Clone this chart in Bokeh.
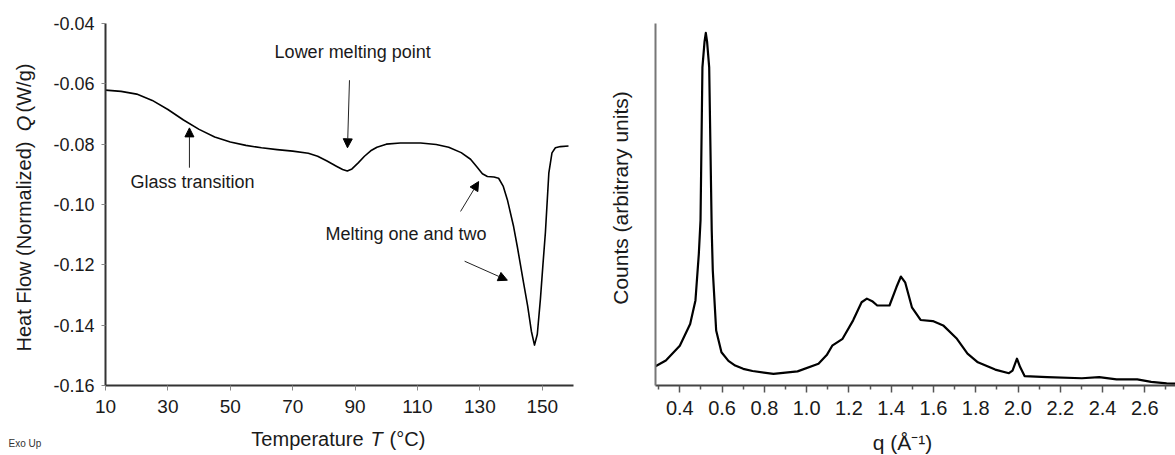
import math
from bokeh.plotting import figure
from bokeh.layouts import column
from bokeh.models import Label, Arrow, NormalHead, FixedTicker, Range1d, GridBox
from bokeh.embed import file_html
from bokeh.resources import INLINE

# ---------------- data ----------------
# DSC curve (left): temperature (°C) and heat flow (W/g)
dsc_T = [10, 15, 20, 25, 30, 35, 40, 45, 50, 55, 60, 65, 70, 75, 78, 81, 84, 86, 87.5, 89,
         91, 93, 95, 97, 100, 104.5, 111, 116, 120, 124, 127, 129, 130.8, 132.4, 134.5,
         136, 137.5, 138.8, 140.8, 142, 144, 145.3, 146.5, 147.5, 148.4, 149.4, 150.2,
         151.0, 152.1, 153.1, 154.2, 155.8, 158.4]
dsc_Q = [-0.0621, -0.0625, -0.0634, -0.0655, -0.0685, -0.0720, -0.0751, -0.0776, -0.0793,
         -0.0804, -0.0812, -0.0818, -0.0823, -0.0830, -0.0840, -0.0856, -0.0873, -0.0884,
         -0.0889, -0.0882, -0.0862, -0.0840, -0.0822, -0.0810, -0.0800, -0.0796, -0.0796,
         -0.0801, -0.0810, -0.0828, -0.0850, -0.0875, -0.0898, -0.0907, -0.0909, -0.0913,
         -0.0940, -0.0984, -0.1073, -0.1140, -0.1260, -0.1336, -0.1420, -0.1466, -0.1430,
         -0.1313, -0.1200, -0.1092, -0.0895, -0.0829, -0.0812, -0.0808, -0.0806]

T_ticks = [10, 30, 50, 70, 90, 110, 130, 150]
Q_ticks = [-0.16, -0.14, -0.12, -0.10, -0.08, -0.06, -0.04]
Q_tick_labels = ["-0.16", "-0.14", "-0.12", "-0.10", "-0.08", "-0.06", "-0.04"]

# XRD curve (right): q (1/Å) and counts (arbitrary units)
xrd_q = [0.285, 0.334, 0.40, 0.449, 0.474, 0.49, 0.498, 0.507, 0.517, 0.523, 0.529, 0.539,
         0.551, 0.556, 0.572, 0.597, 0.630, 0.662, 0.700, 0.744, 0.843, 0.957, 1.056, 1.095,
         1.121, 1.17, 1.22, 1.26, 1.285, 1.310, 1.334, 1.392, 1.425, 1.446, 1.466, 1.498,
         1.539, 1.597, 1.646, 1.711, 1.761, 1.81, 1.892, 1.957, 1.974, 1.995, 2.01, 2.031,
         2.138, 2.302, 2.384, 2.466, 2.564, 2.63, 2.703, 2.745]
xrd_c = [5.3, 6.9, 11.0, 17.0, 23.5, 36.4, 45.6, 87.9, 95.0, 97.4, 95.0, 87.9,
         42.8, 31.8, 15.2, 9.2, 6.8, 5.5, 4.6, 4.0, 3.2, 3.9, 6.0, 8.4,
         11.0, 12.9, 18.0, 23.0, 24.0, 23.3, 22.1, 22.1, 27.2, 30.1, 28.5, 21.6,
         18.1, 17.8, 16.6, 12.9, 8.8, 6.4, 4.4, 3.4, 4.1, 7.4, 5.1, 2.6,
         2.3, 2.0, 2.3, 1.7, 1.7, 1.0, 0.6, 0.5]

q_major = [0.4, 0.6, 0.8, 1.0, 1.2, 1.4, 1.6, 1.8, 2.0, 2.2, 2.4, 2.6]
q_major_labels = ["0.4", "0.6", "0.8", "1.0", "1.2", "1.4", "1.6", "1.8", "2.0", "2.2", "2.4", "2.6"]
q_minor = [0.3, 0.5, 0.7, 0.9, 1.1, 1.3, 1.5, 1.7, 1.9, 2.1, 2.3, 2.5, 2.7]

FONT = "Liberation Sans"
TXT = "#1a1a1a"


def lab(p, x, y, text, size="18px", align="left", baseline="middle", angle=0.0,
        style="normal", font=FONT, color=TXT):
    p.add_layout(Label(x=x, y=y, text=text, text_font=font, text_font_size=size,
                       text_align=align, text_baseline=baseline, angle=angle,
                       text_font_style=style, text_color=color))


def arrow(p, x0, y0, x1, y1):
    p.add_layout(Arrow(end=NormalHead(size=9, fill_color="black", line_color="black", line_width=1),
                       x_start=x0, y_start=y0, x_end=x1, y_end=y1,
                       line_color="#222222", line_width=1))


# ---------------- left: DSC ----------------
p1 = figure(width=600, height=455, x_range=Range1d(10, 160), y_range=Range1d(-0.16, -0.04),
            output_backend="svg", toolbar_location=None,
            min_border_left=105, min_border_right=27, min_border_top=23, min_border_bottom=68)
p1.outline_line_color = None
p1.grid.visible = False

p1.line(dsc_T, dsc_Q, line_color="black", line_width=1.6, line_join="round")

xa = p1.xaxis[0]
xa.ticker = FixedTicker(ticks=T_ticks, minor_ticks=[])
xa.axis_line_color = "#333333"
xa.axis_line_width = 2
xa.major_tick_line_color = "#888888"
xa.major_tick_in = 0
xa.major_tick_out = 5
xa.minor_tick_line_color = None
xa.major_label_standoff = 9
xa.major_label_text_font = FONT
xa.major_label_text_font_size = "19px"
xa.major_label_text_color = TXT

ya = p1.yaxis[0]
ya.ticker = FixedTicker(ticks=Q_ticks, minor_ticks=[])
ya.major_label_overrides = {t: s for t, s in zip(Q_ticks, Q_tick_labels)}
ya.axis_line_color = "#333333"
ya.axis_line_width = 2
ya.major_tick_line_color = "#888888"
ya.major_tick_in = 0
ya.major_tick_out = 4
ya.minor_tick_line_color = None
ya.major_label_standoff = 7
ya.major_label_text_font = FONT
ya.major_label_text_font_size = "18px"
ya.major_label_text_color = TXT

# annotations inside the plot
lab(p1, 64.2, -0.0496, "Lower melting point")
lab(p1, 18.0, -0.0924, "Glass transition")
lab(p1, 80.5, -0.1099, "Melting one and two")

arrow(p1, 88.2, -0.0588, 87.56, -0.0812)
arrow(p1, 36.9, -0.0878, 36.9, -0.0746)
arrow(p1, 123.8, -0.1023, 129.6, -0.0924)
arrow(p1, 125.1, -0.1188, 138.8, -0.1251)

# ---------------- right: XRD ----------------
p2 = figure(width=575, height=455, x_range=Range1d(0.285, 2.745), y_range=Range1d(0, 100),
            output_backend="svg", toolbar_location=None,
            min_border_left=55, min_border_right=0, min_border_top=23, min_border_bottom=70)
p2.outline_line_color = None
p2.grid.visible = False

p2.line(xrd_q, xrd_c, line_color="black", line_width=2.2, line_join="round")

xb = p2.xaxis[0]
xb.ticker = FixedTicker(ticks=q_major, minor_ticks=q_minor)
xb.major_label_overrides = {t: s for t, s in zip(q_major, q_major_labels)}
xb.axis_line_color = "#444444"
xb.axis_line_width = 2
xb.major_tick_line_color = "#555555"
xb.major_tick_line_width = 1.5
xb.major_tick_in = 0
xb.major_tick_out = 7
xb.minor_tick_line_color = "#555555"
xb.minor_tick_line_width = 1.5
xb.minor_tick_in = 0
xb.minor_tick_out = 4
xb.major_label_standoff = 8
xb.major_label_text_font = FONT
xb.major_label_text_font_size = "20px"
xb.major_label_text_color = TXT

yb = p2.yaxis[0]
yb.ticker = FixedTicker(ticks=[], minor_ticks=[])
yb.axis_line_color = "#777777"
yb.axis_line_width = 2
yb.major_tick_line_color = None
yb.minor_tick_line_color = None
yb.major_tick_out = 0
yb.minor_tick_out = 0
yb.major_label_text_font_size = "0px"

# ---------------- transparent overlay for axis titles ----------------
ov = figure(width=1175, height=455, x_range=Range1d(0, 1175), y_range=Range1d(455, 0),
            output_backend="svg", toolbar_location=None, x_axis_type=None, y_axis_type=None,
            min_border_left=0, min_border_right=0, min_border_top=0, min_border_bottom=0)
ov.outline_line_color = None
ov.grid.visible = False
ov.background_fill_color = None
ov.border_fill_color = None

R = math.pi / 2
lab(ov, 23, 246, "Heat Flow (Normalized)", size="20px", align="center", angle=R)
lab(ov, 23, 123, "Q", size="20px", align="center", angle=R, style="italic")
lab(ov, 23, 87.5, "(W/g)", size="20px", align="center", angle=R)

lab(ov, 307, 438, "Temperature", size="20px", align="center")
lab(ov, 376, 438, "T", size="20px", align="center", style="italic")
lab(ov, 407, 438, "(°C)", size="20px", align="center")

lab(ov, 8, 443, "Exo Up", size="10px", color="#333333")

lab(ov, 620, 197.5, "Counts (arbitrary units)", size="21px", align="center", angle=R)
lab(ov, 902, 442, "q (Å⁻¹)", size="21px", align="center")

layout = GridBox(children=[(p1, 0, 0), (p2, 0, 1), (column(ov), 0, 0, 1, 2)])
open("out.html", "w").write(file_html(layout, INLINE))
